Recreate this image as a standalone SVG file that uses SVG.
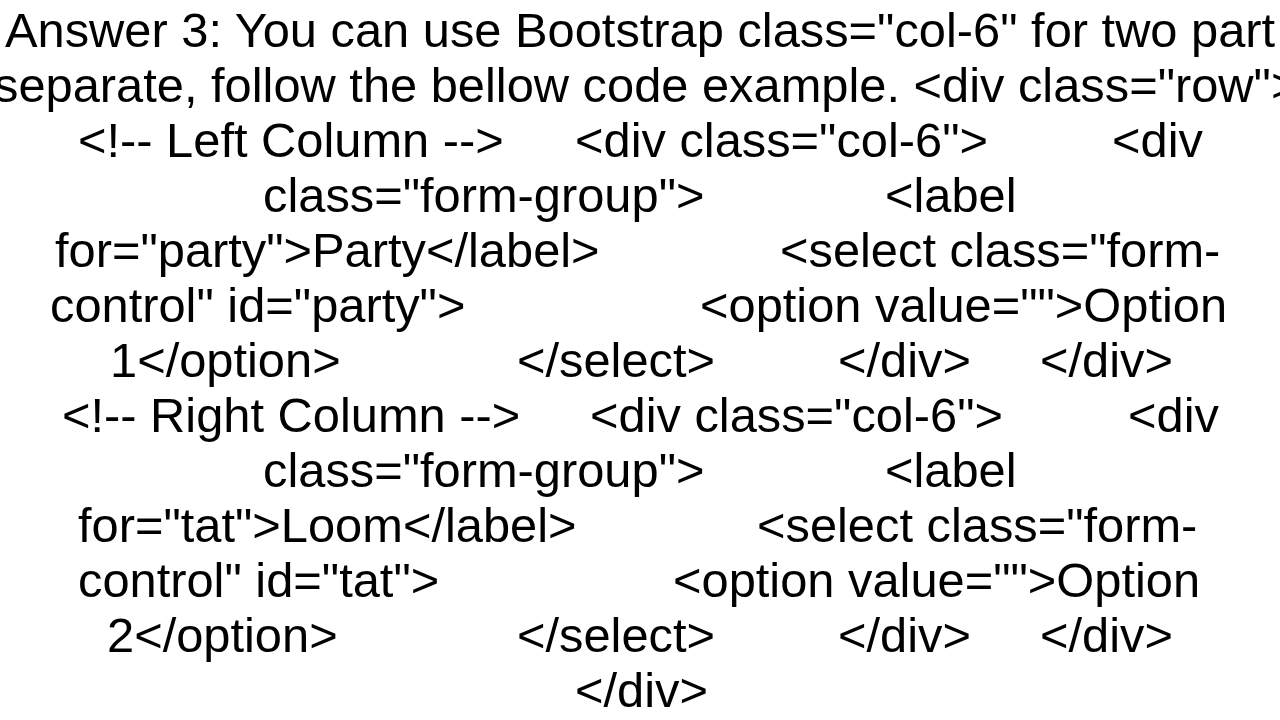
<svg xmlns="http://www.w3.org/2000/svg" width="1280" height="720" viewBox="0 0 1280 720">
<style>text{font-family:"Liberation Sans",Arial,sans-serif;font-size:48.8px;fill:#000;white-space:pre}</style>
<rect width="1280" height="720" fill="#fff"/>
<text x="5" y="47">Answer 3: You can use Bootstrap class="col-6" for two part</text>
<text x="-6" y="102">separate, follow the bellow code example. &lt;div class="row"&gt;</text>
<text x="78" y="157">&lt;!-- Left Column --&gt;</text><text x="575" y="157">&lt;div class="col-6"&gt;</text><text x="1112" y="157">&lt;div</text>
<text x="263" y="212">class="form-group"&gt;</text><text x="885" y="212">&lt;label</text>
<text x="55" y="267">for="party"&gt;Party&lt;/label&gt;</text><text x="780" y="267">&lt;select class="form-</text>
<text x="50" y="322">control" id="party"&gt;</text><text x="700" y="322">&lt;option value=""&gt;Option</text>
<text x="110" y="377">1&lt;/option&gt;</text><text x="517" y="377">&lt;/select&gt;</text><text x="838" y="377">&lt;/div&gt;</text><text x="1040" y="377">&lt;/div&gt;</text>
<text x="62" y="432">&lt;!-- Right Column --&gt;</text><text x="590" y="432">&lt;div class="col-6"&gt;</text><text x="1128" y="432">&lt;div</text>
<text x="263" y="487">class="form-group"&gt;</text><text x="885" y="487">&lt;label</text>
<text x="78" y="542">for="tat"&gt;Loom&lt;/label&gt;</text><text x="757" y="542">&lt;select class="form-</text>
<text x="78" y="597">control" id="tat"&gt;</text><text x="673" y="597">&lt;option value=""&gt;Option</text>
<text x="107" y="652">2&lt;/option&gt;</text><text x="517" y="652">&lt;/select&gt;</text><text x="838" y="652">&lt;/div&gt;</text><text x="1040" y="652">&lt;/div&gt;</text>
<text x="575" y="707">&lt;/div&gt;</text>
</svg>
